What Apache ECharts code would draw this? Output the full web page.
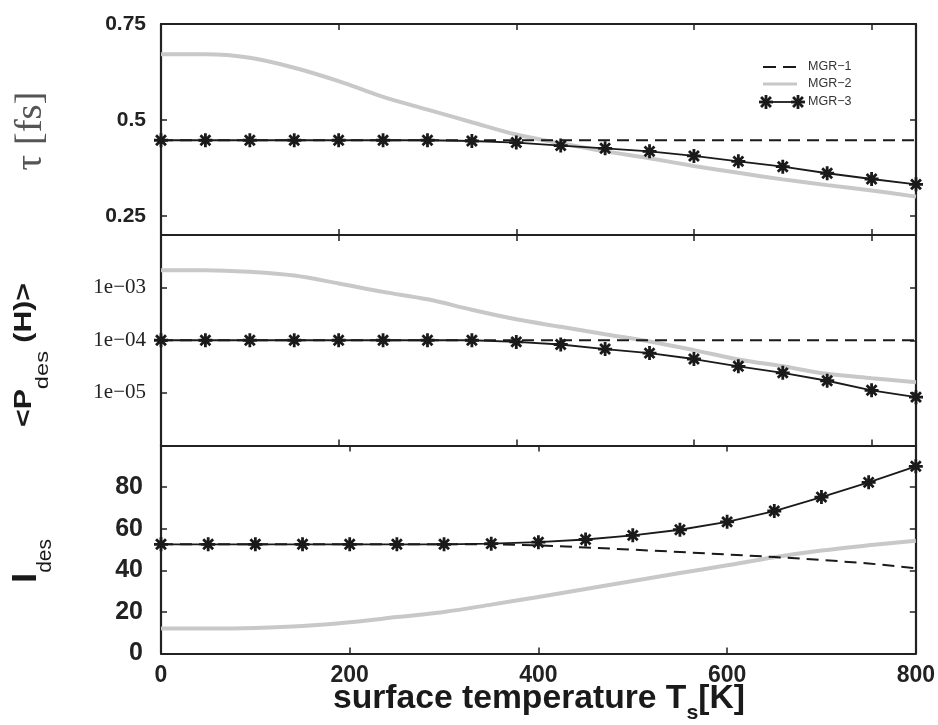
<!DOCTYPE html>
<html>
<head>
<meta charset="utf-8">
<script src="https://cdn.jsdelivr.net/npm/echarts@6/dist/echarts.min.js"></script>
<style>
  html, body { margin: 0; padding: 0; background: #ffffff; }
  #chart { width: 938px; height: 725px; }
</style>
</head>
<body>
<div id="chart"></div>
<script>
// Surface temperatures (K) sampled in the tau and <P_des(H)> panels
const tempsUpper = [0, 50, 100, 150, 200, 250, 300, 350, 400, 450, 500, 550, 600, 650, 700, 750, 800, 850];
// Surface temperatures (K) sampled in the I_des panel
const tempsLower = [0, 50, 100, 150, 200, 250, 300, 350, 400, 450, 500, 550, 600, 650, 700, 750, 800];

// tau [fs]
const tauMGR1 = [0.447, 0.447, 0.447, 0.447, 0.447, 0.447, 0.447, 0.447, 0.447, 0.447, 0.447, 0.447, 0.447, 0.447, 0.447, 0.447, 0.447, 0.447];
const tauMGR2 = [0.671, 0.671, 0.662, 0.636, 0.601, 0.560, 0.527, 0.494, 0.462, 0.439, 0.418, 0.400, 0.380, 0.362, 0.345, 0.330, 0.316, 0.300];
const tauMGR3 = [0.447, 0.447, 0.447, 0.447, 0.447, 0.447, 0.447, 0.445, 0.441, 0.433, 0.426, 0.418, 0.406, 0.392, 0.378, 0.361, 0.346, 0.332];

// <P_des(H)>
const pdesMGR1 = [1.0e-4, 1.0e-4, 1.0e-4, 1.0e-4, 1.0e-4, 1.0e-4, 1.0e-4, 1.0e-4, 1.0e-4, 1.0e-4, 1.0e-4, 1.0e-4, 1.0e-4, 1.0e-4, 1.0e-4, 1.0e-4, 1.0e-4, 1.0e-4];
const pdesMGR2 = [2.15e-3, 2.15e-3, 2.0e-3, 1.7e-3, 1.2e-3, 8.3e-4, 6.0e-4, 3.8e-4, 2.5e-4, 1.8e-4, 1.3e-4, 9.5e-5, 6.5e-5, 4.3e-5, 3.2e-5, 2.3e-5, 1.9e-5, 1.6e-5];
const pdesMGR3 = [1.0e-4, 1.0e-4, 1.0e-4, 1.0e-4, 1.0e-4, 1.0e-4, 1.0e-4, 1.0e-4, 9.3e-5, 8.3e-5, 6.8e-5, 5.7e-5, 4.4e-5, 3.2e-5, 2.4e-5, 1.7e-5, 1.12e-5, 8.3e-6];

// I_des
const idesMGR1 = [52.5, 52.5, 52.5, 52.5, 52.5, 52.5, 52.5, 52.5, 52.0, 51.0, 49.9, 48.8, 47.6, 46.4, 45.0, 43.3, 41.0];
const idesMGR2 = [12.0, 12.0, 12.3, 13.2, 15.0, 17.5, 20.0, 23.5, 27.2, 31.0, 34.9, 38.7, 42.4, 46.3, 49.5, 52.0, 54.2];
const idesMGR3 = [52.5, 52.5, 52.5, 52.5, 52.5, 52.5, 52.5, 52.8, 53.5, 54.8, 56.8, 59.5, 63.3, 68.5, 75.2, 82.3, 90.0];

// Axis tick values
const tauTicks = [0.25, 0.5, 0.75];
const pdesLabelExponents = [-3, -4, -5];
const seriesNames = ['MGR-1', 'MGR-2', 'MGR-3'];

// Eight-spoke asterisk: four overlapping bars around (cx, cy)
function asteriskBars(cx, cy, half, w) {
  return [0, 45, 90, 135].map(function (deg) {
    const a = deg * Math.PI / 180;
    const dx = Math.cos(a), dy = Math.sin(a);
    const px = -dy, py = dx;
    return [
      [cx + dx * half + px * w, cy + dy * half + py * w],
      [cx + dx * half - px * w, cy + dy * half - py * w],
      [cx - dx * half - px * w, cy - dy * half - py * w],
      [cx - dx * half + px * w, cy - dy * half + py * w]
    ];
  });
}
const ASTERISK = 'path://' + asteriskBars(50, 50, 50, 10).map(function (pts) {
  return 'M' + pts.map(function (p) { return p[0].toFixed(2) + ' ' + p[1].toFixed(2); }).join('L') + 'Z';
}).join('');

const INK = '#1a1a1a';
const GRAY = '#c8c8c8';
const FRAME = '#222222';

function pairs(xs, ys) { return xs.map(function (x, i) { return [x, ys[i]]; }); }

const grids = [
  { left: 161, top: 24, width: 755, height: 211 },
  { left: 161, top: 235, width: 755, height: 210.5 },
  { left: 161, top: 445.5, width: 755, height: 208 }
];

const tickStyle = { show: true, inside: true, length: 6, lineStyle: { color: FRAME, width: 1.5 } };
const lineStyle = { show: true, onZero: false, lineStyle: { color: FRAME, width: 2.2 } };

const xAxes = [];
const yAxes = [];
[0, 1, 2].forEach(function (g) {
  const xmax = g === 2 ? 800 : 850;
  ['bottom', 'top'].forEach(function (pos) {
    xAxes.push({
      gridIndex: g, type: 'value', position: pos, min: 0, max: xmax, interval: 200,
      axisLine: lineStyle, axisTick: tickStyle, splitLine: { show: false },
      axisLabel: (g === 2 && pos === 'bottom') ? {
        show: true, margin: 11, color: '#222', fontSize: 23, fontWeight: 'bold',
        fontFamily: '"Liberation Sans", Arial, sans-serif'
      } : { show: false }
    });
  });
});

// tau panel
['left', 'right'].forEach(function (pos) {
  yAxes.push({
    gridIndex: 0, type: 'value', position: pos, min: 0.2, max: 0.75,
    axisLine: lineStyle,
    axisTick: Object.assign({}, tickStyle, { customValues: tauTicks }),
    splitLine: { show: false },
    axisLabel: pos === 'left' ? {
      show: true, customValues: tauTicks, margin: 15, color: '#222', fontSize: 21, fontWeight: 'bold',
      fontFamily: '"Liberation Sans", Arial, sans-serif'
    } : { show: false }
  });
});
// <P_des(H)> panel (log scale)
['left', 'right'].forEach(function (pos) {
  yAxes.push({
    gridIndex: 1, type: 'log', logBase: 10, position: pos, min: 1e-6, max: 1e-2,
    axisLine: lineStyle, axisTick: tickStyle, splitLine: { show: false },
    axisLabel: pos === 'left' ? {
      show: true, margin: 15, color: '#222', fontSize: 21,
      fontFamily: '"Liberation Serif", "Times New Roman", serif',
      formatter: function (v) {
        const e = Math.round(Math.log10(v));
        return pdesLabelExponents.indexOf(e) >= 0 ? '1e\u22120' + (-e) : '';
      }
    } : { show: false }
  });
});
// I_des panel
['left', 'right'].forEach(function (pos) {
  yAxes.push({
    gridIndex: 2, type: 'value', position: pos, min: 0, max: 100, interval: 20,
    axisLine: lineStyle, axisTick: tickStyle, splitLine: { show: false },
    axisLabel: pos === 'left' ? {
      show: true, margin: 18, color: '#222', fontSize: 25, fontWeight: 'bold',
      fontFamily: '"Liberation Sans", Arial, sans-serif',
      formatter: function (v) { return v >= 100 ? '' : String(v); }
    } : { show: false }
  });
});

function panelSeries(g, xs, s1, s2, s3) {
  const xi = g * 2, yi = g * 2;
  return [
    {
      name: seriesNames[1], type: 'line', xAxisIndex: xi, yAxisIndex: yi, data: pairs(xs, s2),
      showSymbol: false, smooth: 0.35, z: 2,
      lineStyle: { color: GRAY, width: 4 }, itemStyle: { color: GRAY }
    },
    {
      name: seriesNames[0], type: 'line', xAxisIndex: xi, yAxisIndex: yi, data: pairs(xs, s1),
      showSymbol: false, z: 3,
      lineStyle: { color: INK, width: 2, type: [12, 7] }, itemStyle: { color: INK }
    },
    {
      name: seriesNames[2], type: 'line', xAxisIndex: xi, yAxisIndex: yi, data: pairs(xs, s3),
      symbol: ASTERISK, symbolSize: 14, showAllSymbol: true, z: 4, clip: false,
      lineStyle: { color: INK, width: 1.8 }, itemStyle: { color: INK }
    }
  ];
}

const series = [].concat(
  panelSeries(0, tempsUpper, tauMGR1, tauMGR2, tauMGR3),
  panelSeries(1, tempsUpper, pdesMGR1, pdesMGR2, pdesMGR3),
  panelSeries(2, tempsLower, idesMGR1, idesMGR2, idesMGR3)
);

// Multi-part titles (subscripts), measured with canvas so they can be centred and sized
const measureCtx = document.createElement('canvas').getContext('2d');
function textWidth(str, font) { measureCtx.font = font; return measureCtx.measureText(str).width; }

function titleGroup(parts, cx, cy, targetLen, vertical, color) {
  let x = 0;
  const kids = [];
  parts.forEach(function (p) {
    const font = (p.weight || 'normal') + ' ' + p.size + 'px ' + p.family;
    const w = textWidth(p.text, font);
    kids.push({
      type: 'text', x: x, y: p.dy || 0, silent: true,
      style: { text: p.text, font: font, fill: color, align: 'left', verticalAlign: 'middle' }
    });
    x += w;
  });
  kids.forEach(function (k) { k.x -= x / 2; });
  return {
    type: 'group', x: cx, y: cy, rotation: vertical ? Math.PI / 2 : 0,
    scaleX: targetLen / x, scaleY: 1, children: kids
  };
}

const SANS = '"Liberation Sans", Arial, sans-serif';
const SERIF = '"Liberation Serif", "Times New Roman", serif';

const graphics = [
  titleGroup([{ text: '\u03c4 [fs]', size: 37, family: SERIF }], 31, 131, 79, true, '#555555'),
  titleGroup([
    { text: '<P', size: 23, weight: 'bold', family: SANS },
    { text: 'des', size: 18, family: SANS, dy: 18 },
    { text: ' (H)>', size: 23, weight: 'bold', family: SANS }
  ], 25, 355, 144, true, '#1a1a1a'),
  titleGroup([
    { text: 'I', size: 35, weight: 'bold', family: SANS },
    { text: 'des', size: 20, family: SANS, dy: 19 }
  ], 26, 561, 44, true, '#1a1a1a'),
  titleGroup([
    { text: 'surface temperature T', size: 33, weight: 'bold', family: SANS },
    { text: 's', size: 21, weight: 'bold', family: SANS, dy: 14 },
    { text: '[K]', size: 33, weight: 'bold', family: SANS }
  ], 539, 699, 412, false, '#1a1a1a')
];

// Legend entries in the tau panel
const legendRows = [
  { y: 67, name: 'MGR\u22121' },
  { y: 84, name: 'MGR\u22122' },
  { y: 102, name: 'MGR\u22123' }
];
graphics.push({ type: 'line', silent: true, shape: { x1: 763, y1: 67, x2: 797, y2: 67 },
  style: { stroke: INK, lineWidth: 2, lineDash: [13, 7] } });
graphics.push({ type: 'line', silent: true, shape: { x1: 763, y1: 84, x2: 797, y2: 84 },
  style: { stroke: GRAY, lineWidth: 3 } });
graphics.push({ type: 'line', silent: true, shape: { x1: 766, y1: 102, x2: 798, y2: 102 },
  style: { stroke: INK, lineWidth: 1.8 } });
[766, 798].forEach(function (cx) {
  asteriskBars(cx, 102, 7, 1.4).forEach(function (pts) {
    graphics.push({ type: 'polygon', silent: true, shape: { points: pts }, style: { fill: INK } });
  });
});
legendRows.forEach(function (r) {
  graphics.push({ type: 'text', silent: true, x: 808, y: r.y,
    style: { text: r.name, font: '12.5px ' + SANS, fill: '#333', align: 'left', verticalAlign: 'middle' } });
});

const chart = echarts.init(document.getElementById('chart'), null, { renderer: 'canvas' });
chart.setOption({
  animation: false,
  backgroundColor: '#ffffff',
  grid: grids,
  xAxis: xAxes,
  yAxis: yAxes,
  series: series,
  graphic: graphics
});
</script>
</body>
</html>
